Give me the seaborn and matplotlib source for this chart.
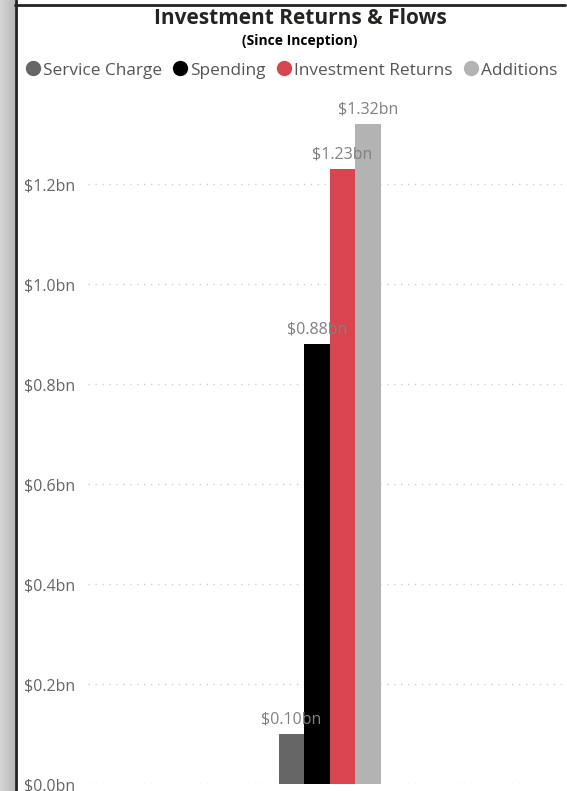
import matplotlib
matplotlib.use("Agg")
import matplotlib.pyplot as plt
import seaborn as sns
import numpy as np
import pandas as pd
from matplotlib.lines import Line2D

# Data (values in $bn)
series = ["Service Charge", "Spending", "Investment Returns", "Additions"]
values = [0.10, 0.88, 1.23, 1.32]
colors = ["#666666", "#000000", "#D64550", "#B3B3B3"]
yticks = [0.0, 0.2, 0.4, 0.6, 0.8, 1.0, 1.2]

df = pd.DataFrame({"group": ["All"] * len(series), "series": series, "value": values})

sns.set_style("white")
plt.rcParams["font.family"] = ["Open Sans", "DejaVu Sans"]

W, H = 567, 791
fig = plt.figure(figsize=(W / 100, H / 100), dpi=100)

# gray strip on the left edge
strip = fig.add_axes([0, 0, 15 / W, 1])
grad = np.linspace(0.84, 0.72, 50).reshape(1, -1)
strip.imshow(grad, aspect="auto", cmap="gray", vmin=0, vmax=1, extent=[0, 1, 0, 1])
strip.axis("off")

# frame lines
fig.add_artist(Line2D([15.5 / W, 15.5 / W], [0, 1], color="#222222", lw=2, transform=fig.transFigure))
fig.add_artist(Line2D([15 / W, 565 / W], [1 - 4.5 / H, 1 - 4.5 / H], color="#222222", lw=2,
                      transform=fig.transFigure))

ax = fig.add_axes([88 / W, 7 / H, (565 - 88) / W, (784 - 104) / H])
sns.barplot(data=df, x="group", y="value", hue="series", hue_order=series,
            palette=colors, width=0.214, saturation=1, legend=False, ax=ax,
            errorbar=None, linewidth=0)

ax.set_ylim(0, 1.36)
ax.set_xlim(-0.507, 0.493)
ax.set_yticks(yticks)
ax.set_yticklabels([f"${t:.1f}bn" for t in yticks], color="#666666", fontsize=11.5)
ax.tick_params(axis="y", length=0, pad=9.5)
ax.set_xticks([])
ax.set_xlabel("")
ax.set_ylabel("")
for s in ax.spines.values():
    s.set_visible(False)
ax.yaxis.grid(True, linestyle=(0, (1, 4)), color="#cfcfcf", linewidth=1)
ax.set_axisbelow(True)

# value labels above bars
for patch in ax.patches:
    h = patch.get_height()
    if h > 0:
        ax.annotate(f"${h:.2f}bn", (patch.get_x() + patch.get_width() / 2, h),
                    xytext=(0, 5), textcoords="offset points",
                    ha="center", va="bottom", fontsize=11.5, color="#808080")

# title and subtitle
fig.text(300 / W, 1 - 18.5 / H, "Investment Returns & Flows", ha="center", va="center",
         fontsize=15, fontweight="bold", color="#252423")
fig.text(300 / W, 1 - 41 / H, "(Since Inception)", ha="center", va="center",
         fontsize=10, fontweight="bold", color="#000000")

# legend along the top
handles = [Line2D([], [], marker="o", linestyle="", markersize=10, color=c) for c in colors]
leg = fig.legend(handles, series, loc="center left", bbox_to_anchor=(17 / W, 1 - 70.5 / H),
                 ncol=4, frameon=False, handletextpad=0.1, columnspacing=0.55,
                 fontsize=12.4, borderaxespad=0, handlelength=1.0)
for t in leg.get_texts():
    t.set_color("#555555")

fig.savefig("out.png", dpi=100)
